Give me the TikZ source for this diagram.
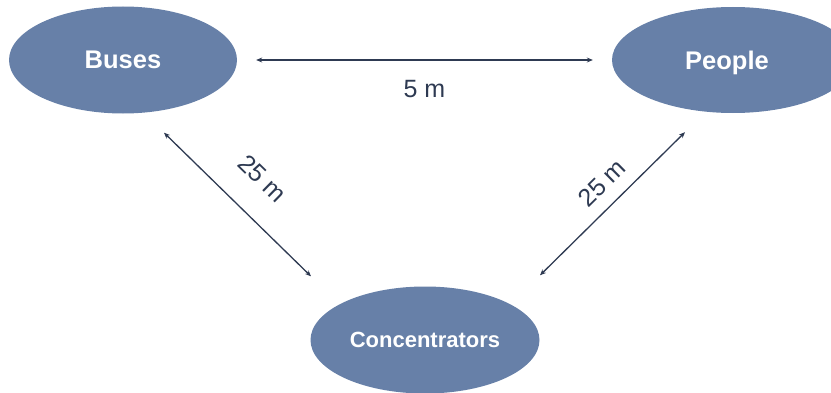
\documentclass[tikz,border=0pt]{standalone}
\usepackage{fontspec}
\setmainfont{Liberation Sans}
\usepackage{tikz}
\usetikzlibrary{shapes, arrows.meta}
\usepackage{xcolor}
\definecolor{blobblue}{RGB}{103,128,168}
\definecolor{linknavy}{RGB}{46,58,82}
\tikzstyle{group} = [
    ellipse,
    fill=blobblue,
    inner sep=0pt,
    minimum width=228pt,
    minimum height=107pt,
    text depth=0pt,
    text=white,
    font=\fontsize{25.5}{30}\selectfont\bfseries
]
\tikzstyle{link} = [
    draw=linknavy,
    line width=1.3pt,
    {Stealth[length=6pt,width=5pt]}-{Stealth[length=6pt,width=5pt]}
]
\tikzstyle{dist} = [
    text=linknavy,
    font=\fontsize{25}{30}\selectfont
]

\begin{document}
\begin{tikzpicture}[x=1pt, y=1pt]
            \useasboundingbox (0,0) rectangle (831,392);
            \node[group] (buses) at (123,332) {Buses};
            % wider blob, its word sits a bit left of centre
            \node[group, minimum width=242pt, minimum height=106pt] (people) at (733,332) {\hspace*{-12pt}People};
            \node[group, minimum width=229pt, font=\fontsize{22}{26}\selectfont\bfseries] (conc) at (425,52) {Concentrators};

            \draw[link, shorten <=19pt, shorten >=19pt] (buses.east) -- (buses.east -| people.west)
                node[dist, midway, yshift=-29pt] {5 m};
            \draw[link] ([shift={(41,-19)}]buses.south) -- ([shift={(-114,10)}]conc.north)
                node[dist, midway, sloped, above=23.5pt] {25 m};
            \draw[link] ([shift={(115,11)}]conc.north) -- ([shift={(-48,-19)}]people.south)
                node[dist, pos=.535, sloped, above=9.5pt] {25 m};
        \end{tikzpicture}
\end{document}
